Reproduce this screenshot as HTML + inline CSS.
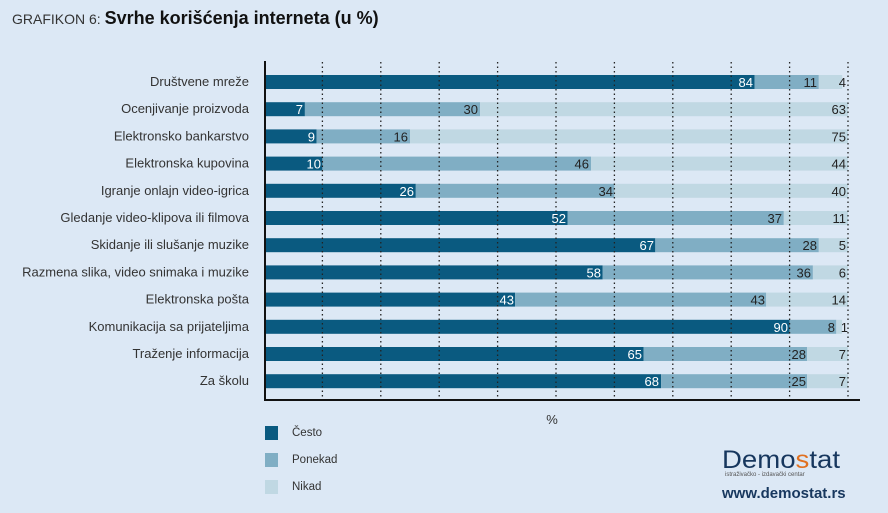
<!DOCTYPE html>
<html><head><meta charset="utf-8"><style>
body{margin:0;background:#dce8f5;}
svg{display:block;font-family:"Liberation Sans",sans-serif;}
</style></head><body>
<svg width="888" height="513" viewBox="0 0 888 513" xmlns="http://www.w3.org/2000/svg">
<rect width="888" height="513" fill="#dce8f5"/>
<text x="12" y="24" font-size="14" fill="#333">GRAFIKON 6: <tspan font-size="18" font-weight="bold" fill="#111">Svrhe korišćenja interneta (u %)</tspan></text>
<g fill="#0a5a80">
<rect x="264" y="75" width="490.6" height="14"/>
<rect x="264" y="102.2" width="40.9" height="14"/>
<rect x="264" y="129.4" width="52.6" height="14"/>
<rect x="264" y="156.6" width="58.4" height="14"/>
<rect x="264" y="183.8" width="151.8" height="14"/>
<rect x="264" y="211" width="303.7" height="14"/>
<rect x="264" y="238.2" width="391.3" height="14"/>
<rect x="264" y="265.4" width="338.7" height="14"/>
<rect x="264" y="292.6" width="251.1" height="14"/>
<rect x="264" y="319.8" width="525.6" height="14"/>
<rect x="264" y="347" width="379.6" height="14"/>
<rect x="264" y="374.2" width="397.1" height="14"/>
</g>
<g fill="#80aec4">
<rect x="754.6" y="75" width="64.2" height="14"/>
<rect x="304.9" y="102.2" width="175.2" height="14"/>
<rect x="316.6" y="129.4" width="93.4" height="14"/>
<rect x="322.4" y="156.6" width="268.6" height="14"/>
<rect x="415.8" y="183.8" width="198.6" height="14"/>
<rect x="567.7" y="211" width="216.1" height="14"/>
<rect x="655.3" y="238.2" width="163.5" height="14"/>
<rect x="602.7" y="265.4" width="210.2" height="14"/>
<rect x="515.1" y="292.6" width="251.1" height="14"/>
<rect x="789.6" y="319.8" width="46.7" height="14"/>
<rect x="643.6" y="347" width="163.5" height="14"/>
<rect x="661.1" y="374.2" width="146" height="14"/>
</g>
<g fill="#c0d8e3">
<rect x="818.8" y="75" width="23.4" height="14"/>
<rect x="480.1" y="102.2" width="367.9" height="14"/>
<rect x="410" y="129.4" width="438" height="14"/>
<rect x="591" y="156.6" width="257" height="14"/>
<rect x="614.4" y="183.8" width="233.6" height="14"/>
<rect x="783.8" y="211" width="64.2" height="14"/>
<rect x="818.8" y="238.2" width="29.2" height="14"/>
<rect x="812.9" y="265.4" width="35" height="14"/>
<rect x="766.2" y="292.6" width="81.8" height="14"/>
<rect x="836.3" y="319.8" width="5.8" height="14"/>
<rect x="807.1" y="347" width="40.9" height="14"/>
<rect x="807.1" y="374.2" width="40.9" height="14"/>
</g>
<g stroke="#222" stroke-width="1.3" stroke-dasharray="1.5,3">
<line x1="322.4" y1="62" x2="322.4" y2="404"/>
<line x1="380.8" y1="62" x2="380.8" y2="404"/>
<line x1="439.2" y1="62" x2="439.2" y2="404"/>
<line x1="497.6" y1="62" x2="497.6" y2="404"/>
<line x1="556" y1="62" x2="556" y2="404"/>
<line x1="614.4" y1="62" x2="614.4" y2="404"/>
<line x1="672.8" y1="62" x2="672.8" y2="404"/>
<line x1="731.2" y1="62" x2="731.2" y2="404"/>
<line x1="789.6" y1="62" x2="789.6" y2="404"/>
<line x1="848" y1="62" x2="848" y2="404"/>
</g>
<line x1="265" y1="61" x2="265" y2="401" stroke="#111" stroke-width="2"/>
<line x1="264" y1="400" x2="860" y2="400" stroke="#111" stroke-width="2"/>
<g font-size="13" fill="#333" text-anchor="end">
<text x="249" y="86">Društvene mreže</text>
<text x="249" y="113.2">Ocenjivanje proizvoda</text>
<text x="249" y="140.4">Elektronsko bankarstvo</text>
<text x="249" y="167.6">Elektronska kupovina</text>
<text x="249" y="194.8">Igranje onlajn video-igrica</text>
<text x="249" y="222">Gledanje video-klipova ili filmova</text>
<text x="249" y="249.2">Skidanje ili slušanje muzike</text>
<text x="249" y="276.4">Razmena slika, video snimaka i muzike</text>
<text x="249" y="303.6">Elektronska pošta</text>
<text x="249" y="330.8">Komunikacija sa prijateljima</text>
<text x="249" y="358">Traženje informacija</text>
<text x="249" y="385.2">Za školu</text>
</g>
<g font-size="13" fill="#fff" text-anchor="end">
<text x="753" y="87">84</text>
<text x="303" y="114.2">7</text>
<text x="315" y="141.4">9</text>
<text x="321" y="168.6">10</text>
<text x="414" y="195.8">26</text>
<text x="566" y="223">52</text>
<text x="654" y="250.2">67</text>
<text x="601" y="277.4">58</text>
<text x="514" y="304.6">43</text>
<text x="788" y="331.8">90</text>
<text x="642" y="359">65</text>
<text x="659" y="386.2">68</text>
</g>
<g font-size="13" fill="#222" text-anchor="end">
<text x="817" y="87">11</text>
<text x="478" y="114.2">30</text>
<text x="408" y="141.4">16</text>
<text x="589" y="168.6">46</text>
<text x="613" y="195.8">34</text>
<text x="782" y="223">37</text>
<text x="817" y="250.2">28</text>
<text x="811" y="277.4">36</text>
<text x="765" y="304.6">43</text>
<text x="835" y="331.8">8</text>
<text x="806" y="359">28</text>
<text x="806" y="386.2">25</text>
<text x="846" y="87">4</text>
<text x="846" y="114.2">63</text>
<text x="846" y="141.4">75</text>
<text x="846" y="168.6">44</text>
<text x="846" y="195.8">40</text>
<text x="846" y="223">11</text>
<text x="846" y="250.2">5</text>
<text x="846" y="277.4">6</text>
<text x="846" y="304.6">14</text>
<text x="848" y="331.8">1</text>
<text x="846" y="359">7</text>
<text x="846" y="386.2">7</text>
</g>
<text x="552" y="424" font-size="13" fill="#333" text-anchor="middle">%</text>
<rect x="265" y="426" width="13" height="14" fill="#0a5a80"/>
<rect x="265" y="453" width="13" height="14" fill="#80aec4"/>
<rect x="265" y="480" width="13" height="14" fill="#c0d8e3"/>
<g font-size="11.5" fill="#333">
<text x="292" y="436">Često</text>
<text x="292" y="463">Ponekad</text>
<text x="292" y="490">Nikad</text>
</g>
<text x="722" y="468" font-size="25" fill="#17375e" textLength="118" lengthAdjust="spacingAndGlyphs">Demo<tspan fill="#e07020">s</tspan>tat</text>
<text x="725" y="476" font-size="6" fill="#555">istraživačko - izdavački centar</text>
<text x="722" y="498" font-size="15" font-weight="bold" fill="#17375e">www.demostat.rs</text>
</svg>
</body></html>
